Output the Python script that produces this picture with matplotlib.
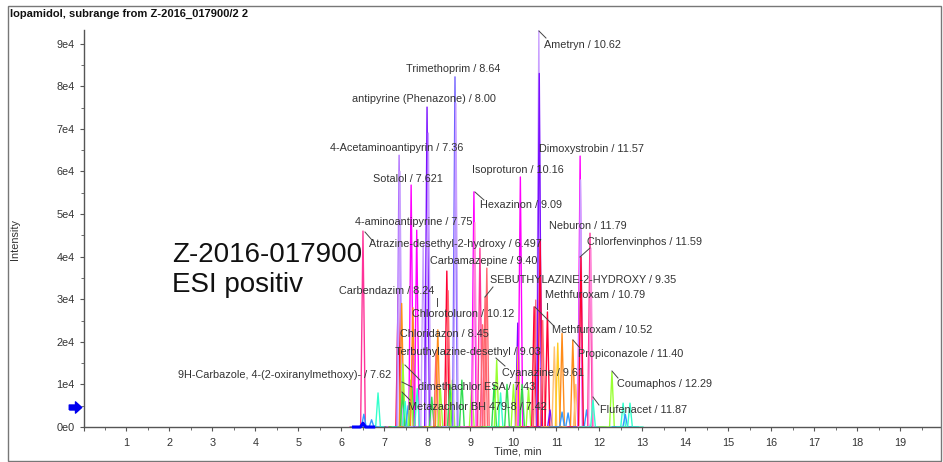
import numpy as np
import matplotlib.pyplot as plt
from matplotlib.ticker import MultipleLocator, FuncFormatter
from matplotlib.patches import Rectangle

plt.rcParams['font.family'] = ['Liberation Sans', 'DejaVu Sans']

# trace colours
MAG = '#ff00ff'
PINK = '#ff3399'
LPINK = '#ff88d8'
VIO = '#b070ff'
LVIO = '#c9a0ff'
PUR = '#7a10ff'
BLU = '#7060ff'
RED = '#ff0033'
SAL = '#ff6670'
ORA = '#ff8c1a'
LORA = '#ffc070'
YEL = '#ffcc22'
YGR = '#99ff33'
GRN = '#30dd50'
CYN = '#33ffcc'
SKY = '#3399ff'

# peaks: retention time (min), apex intensity, trace colour
peak_rt = [6.50, 6.52, 6.70, 6.85, 7.32, 7.34, 7.36, 7.40, 7.43, 7.42, 7.48, 7.55,
           7.62, 7.64, 7.61, 7.66, 7.75, 7.76, 7.90, 7.99, 8.02, 8.10, 8.20, 8.24,
           8.30, 8.45, 8.48, 8.52, 8.58, 8.64, 8.66, 8.80, 9.03, 9.08, 9.10, 9.22,
           9.28, 9.34, 9.38, 9.55, 9.61, 9.70, 9.85, 10.00, 10.10, 10.11, 10.16, 10.20,
           10.35, 10.48, 10.52, 10.59, 10.60, 10.62, 10.68, 10.79, 10.85, 10.95, 11.03, 11.13,
           11.13, 11.27, 11.38, 11.45, 11.55, 11.56, 11.57, 11.70, 11.78, 11.80, 11.85, 12.29,
           12.55, 12.60, 12.71]
peak_h = [46000, 3000, 1700, 8000, 31700, 63800, 60000, 29000, 14800, 8000, 6000, 5000,
          56800, 9400, 11000, 28000, 46200, 9000, 43000, 75100, 69000, 7000, 18000, 22800,
          9000, 36600, 32000, 10000, 11000, 82200, 76000, 11000, 10000, 55200, 48000, 42000,
          24000, 30500, 37300, 10000, 15700, 8000, 10000, 10000, 24400, 18800, 58700, 10000,
          9000, 28200, 29800, 93000, 83000, 44000, 25000, 27000, 4000, 18800, 19700, 22000,
          3500, 3300, 20400, 10000, 63600, 58000, 39900, 4000, 45500, 42000, 6300, 12900,
          5600, 3000, 5600]
peak_c = [PINK, SKY, SKY, CYN, RED, VIO, LVIO, ORA, YGR, GRN, CYN, SKY,
          MAG, GRN, YGR, ORA, MAG, CYN, LVIO, PUR, LVIO, GRN, SAL, ORA,
          YGR, RED, SAL, GRN, YGR, BLU, LVIO, GRN, YGR, MAG, LPINK, PINK,
          SAL, SAL, SAL, GRN, YGR, CYN, GRN, YGR, PUR, YEL, MAG, GRN,
          YGR, RED, SAL, LVIO, PUR, RED, SAL, RED, PUR, LORA, YEL, ORA,
          SKY, SKY, ORA, LORA, MAG, LVIO, RED, SKY, PINK, LPINK, CYN, YGR,
          CYN, SKY, CYN]

# peak labels
label_text = ['Ametryn / 10.62', 'Trimethoprim / 8.64', 'antipyrine (Phenazone) / 8.00',
              '4-Acetaminoantipyrin / 7.36', 'Sotalol / 7.621', 'Isoproturon / 10.16',
              'Dimoxystrobin / 11.57', 'Hexazinon / 9.09', '4-aminoantipyrine / 7.75',
              'Atrazine-desethyl-2-hydroxy / 6.497', 'Neburon / 11.79', 'Chlorfenvinphos / 11.59',
              'Carbamazepine / 9.40', 'SEBUTHYLAZINE-2-HYDROXY / 9.35', 'Carbendazim / 8.24',
              'Methfuroxam / 10.79', 'Chlorotoluron / 10.12', 'Methfuroxam / 10.52',
              'Chloridazon / 8.45', 'Terbuthylazine-desethyl / 9.03', 'Propiconazole / 11.40',
              'Cyanazine / 9.61', '9H-Carbazole, 4-(2-oxiranylmethoxy)- / 7.62',
              'dimethachlor ESA / 7.43', 'Metazachlor BH 479-8 / 7.42', 'Coumaphos / 12.29',
              'Flufenacet / 11.87']
# text anchor (left, centre) in pixels of the original layout
label_px = [(544, 45), (406, 69), (352, 99), (330, 148), (373, 179), (472, 170),
            (539, 149), (480, 205), (355, 222), (369, 244), (549, 226), (587, 242),
            (430, 261), (490, 280), (339, 291), (545, 295), (412, 314), (552, 330),
            (400, 334), (395, 352), (578, 354), (502, 373), (178, 375), (418, 387),
            (408, 407), (617, 384), (600, 410)]
leaders_px = [((539, 31), (546, 38)), ((475, 192), (484, 200)), ((365, 232), (372, 240)),
              ((580, 257), (590, 248)), ((485, 297), (493, 287)), ((535, 307), (553, 325)),
              ((573, 340), (580, 348)), ((496, 358), (505, 366)), ((405, 365), (420, 380)),
              ((402, 382), (412, 387)), ((402, 392), (410, 400)), ((612, 371), (618, 378)),
              ((593, 397), (599, 405)), ((437, 298), (437, 306)), ((547, 303), (547, 309))]


def px2data(px, py):
    return (px - 83.5) / 43.0, (427 - py) / 42.6 * 1e4


fig = plt.figure(figsize=(9.43, 4.62), dpi=100)
ax = fig.add_axes([83.5 / 943, 35 / 462, (940 - 83.5) / 943, (427 - 30) / 462])

hw = 0.055
for rt, h, c in zip(peak_rt, peak_h, peak_c):
    ax.plot([rt - 0.3, rt - hw, rt, rt + hw, rt + 0.3], [0, 0, h, 0, 0], color=c, lw=1.0, zorder=2)

# highlighted blue trace segment
blue_x = [6.28, 6.44, 6.50, 6.56, 6.75]
blue_y = [0, 0, 900, 0, 0]
ax.plot(blue_x, blue_y, color='#0000ff', lw=2.2, zorder=3, clip_on=False)

for txt, (px, py) in zip(label_text, label_px):
    x, y = px2data(px, py)
    ax.text(x, y, txt, fontsize=7.8, color='#333333', ha='left', va='center', zorder=5)

for (a, b) in leaders_px:
    x0, y0 = px2data(*a)
    x1, y1 = px2data(*b)
    ax.plot([x0, x1], [y0, y1], color='#444444', lw=0.7, zorder=4, clip_on=False)

x, y = px2data(172, 255)
ax.text(x, y, 'Z-2016-017900', fontsize=20, color='#111111', ha='left', va='center')
x, y = px2data(172, 285)
ax.text(x, y, 'ESI positiv', fontsize=20, color='#111111', ha='left', va='center')

# blue arrow marker at the left of the axis
arrow = [(-1, -0.4), (0, -0.4), (0, -0.9), (1, 0), (0, 0.9), (0, 0.4), (-1, 0.4), (-1, -0.4)]
ax.plot([-0.2], [4700], marker=arrow, markersize=9, color='#0000ee', clip_on=False, zorder=6)

ax.set_xlim(0, 19.92)
ax.set_ylim(0, 93200)
for s in ['top', 'right']:
    ax.spines[s].set_visible(False)
for s in ['left', 'bottom']:
    ax.spines[s].set_color('#555555')
    ax.spines[s].set_linewidth(1.0)

ax.xaxis.set_major_locator(MultipleLocator(1))
ax.xaxis.set_minor_locator(MultipleLocator(0.5))
ax.yaxis.set_major_locator(MultipleLocator(10000))
ax.yaxis.set_minor_locator(MultipleLocator(5000))
ax.xaxis.set_major_formatter(FuncFormatter(lambda v, p: '' if v < 0.5 else '%d' % v))
ax.yaxis.set_major_formatter(FuncFormatter(lambda v, p: '%de%d' % (v / 1e4, 0 if v == 0 else 4)))
ax.tick_params(axis='both', labelsize=7.8, colors='#555555', labelcolor='#333333',
               length=3, width=0.8)
ax.tick_params(axis='both', which='minor', length=2, width=0.6, colors='#555555')
ax.tick_params(axis='x', pad=5)

fig.text(518 / 943, 1 - 452 / 462, 'Time, min', fontsize=7.8, color='#333333', ha='center', va='center')
fig.text(15 / 943, 1 - 240 / 462, 'Intensity', fontsize=7.8, color='#333333', ha='center',
         va='center', rotation=90)
fig.text(10 / 943, 1 - 14 / 462, 'Iopamidol, subrange from Z-2016_017900/2 2', fontsize=8,
         fontweight='bold', color='#111111', ha='left', va='center')

fig.patches.append(Rectangle((8 / 943, 1 / 462), 933 / 943, 455 / 462, transform=fig.transFigure,
                             fill=False, edgecolor='#777777', lw=1.0))

fig.savefig('out.png', dpi=100)
